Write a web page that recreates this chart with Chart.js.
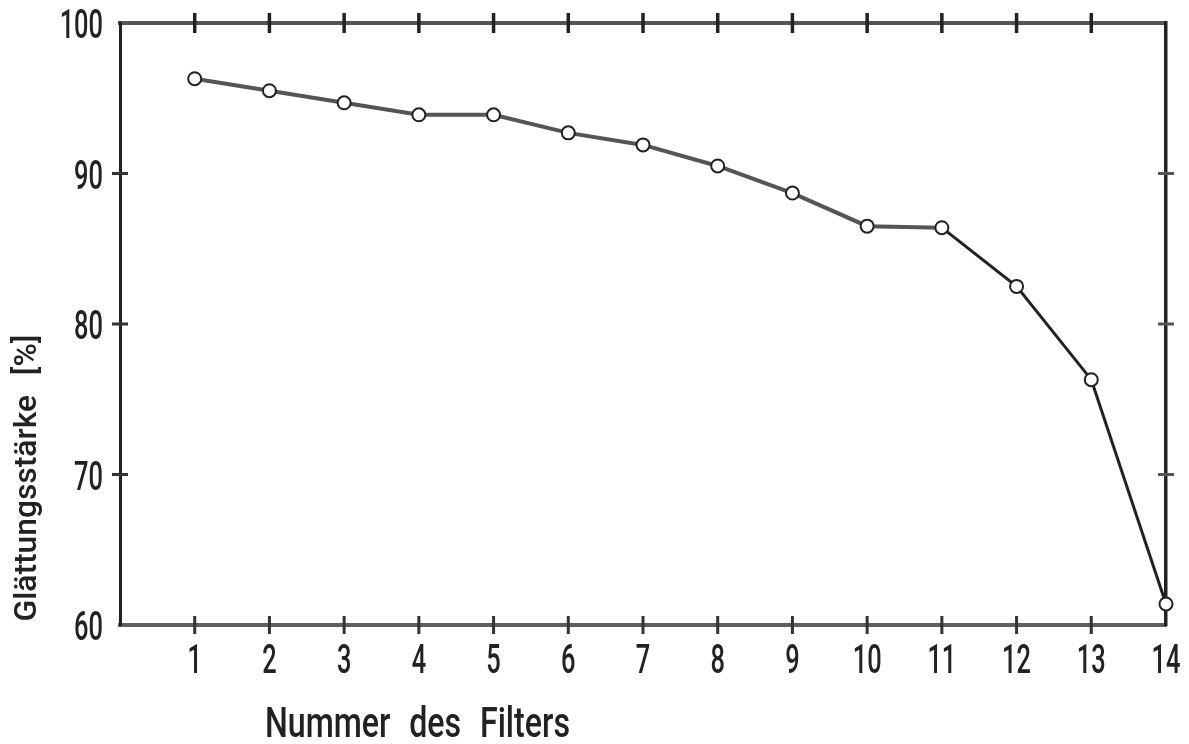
<!DOCTYPE html>
<html>
<head>
<meta charset="utf-8">
<title>Glättungsstärke der Filter</title>
<script src="https://cdn.jsdelivr.net/npm/chart.js@4/dist/chart.umd.min.js"></script>
<style>
  html, body { margin: 0; padding: 0; background: #ffffff; }
  #wrap { width: 1189px; height: 744px; position: relative; }
</style>
</head>
<body>
<div id="wrap"><canvas id="chart"></canvas></div>
<script>
// Filter numbers and the smoothing strength measured for each filter
const filterNumbers = [1, 2, 3, 4, 5, 6, 7, 8, 9, 10, 11, 12, 13, 14];
const smoothingStrength = [96.3, 95.5, 94.7, 93.9, 93.9, 92.7, 91.9, 90.5, 88.7, 86.5, 86.4, 82.5, 76.3, 61.4];

// Axis ticks: labelled values and the marks crossing the frame
const xLabelValues = [1, 2, 3, 4, 5, 6, 7, 8, 9, 10, 11, 12, 13, 14];
const yLabelValues = [60, 70, 80, 90, 100];
const xMarkValues = [1, 2, 3, 4, 5, 6, 7, 8, 9, 10, 11, 12, 13];
const yMarkValues = [70, 80, 90];
const yRange = [60, 100];
const xRange = [0, 14];

const xTitle = 'Nummer des Filters';
const yTitle = 'Glättungsstärke [%]';

const FONT = 'Roboto, "DejaVu Sans Condensed", sans-serif';
const INK = '#222222';
const NARROW = 0.62;   // horizontal squeeze for the condensed lettering

// Short marks that cross the frame on all four sides
const frameTicks = {
  id: 'frameTicks',
  afterDraw(chart) {
    const { ctx, chartArea: a, scales } = chart;
    ctx.save();
    ctx.lineCap = 'butt';
    xMarkValues.forEach(v => {
      const px = scales.x.getPixelForValue(v);
      ctx.strokeStyle = INK; ctx.lineWidth = 3.5;
      ctx.beginPath(); ctx.moveTo(px, a.top - 10); ctx.lineTo(px, a.top + 10); ctx.stroke();
      ctx.strokeStyle = '#333'; ctx.lineWidth = 3;
      ctx.beginPath(); ctx.moveTo(px, a.bottom - 9); ctx.lineTo(px, a.bottom + 9); ctx.stroke();
    });
    yMarkValues.forEach(v => {
      const py = scales.y.getPixelForValue(v);
      ctx.strokeStyle = '#333'; ctx.lineWidth = 3;
      ctx.beginPath(); ctx.moveTo(a.left - 8, py); ctx.lineTo(a.left + 8, py); ctx.stroke();
      ctx.strokeStyle = '#555'; ctx.lineWidth = 3;
      ctx.beginPath(); ctx.moveTo(a.right - 8, py); ctx.lineTo(a.right + 8, py); ctx.stroke();
    });
    ctx.restore();
  }
};

// Condensed tick labels, positioned by the chart's scales
function narrowText(ctx, text, x, y, align, sx) {
  ctx.save();
  ctx.translate(x, y);
  ctx.scale(sx, 1);
  ctx.textAlign = align;
  ctx.textBaseline = 'alphabetic';
  ctx.fillText(text, 0, 0);
  ctx.restore();
}

const tickLabels = {
  id: 'tickLabels',
  afterDraw(chart) {
    const { ctx, chartArea: a, scales } = chart;
    ctx.save();
    ctx.fillStyle = INK;
    ctx.font = '500 41px ' + FONT;
    yLabelValues.forEach(v => {
      const py = scales.y.getPixelForValue(v);
      narrowText(ctx, String(v), a.left - 17, py + 15, 'right', NARROW);
    });
    xLabelValues.forEach(v => {
      const px = scales.x.getPixelForValue(v);
      narrowText(ctx, String(v), px, a.bottom + 48, 'center', NARROW);
    });
    ctx.restore();
  }
};

// Axis titles, squeezed to the width of the lettering
const axisTitles = {
  id: 'axisTitles',
  afterDraw(chart) {
    const { ctx } = chart;
    ctx.save();
    ctx.fillStyle = INK;

    ctx.font = '500 42px ' + FONT;
    ctx.wordSpacing = '14px';
    let w = ctx.measureText(xTitle).width;
    narrowText(ctx, xTitle, 265, 737, 'left', 305 / w);

    ctx.font = '500 32px ' + FONT;
    ctx.wordSpacing = '12px';
    w = ctx.measureText(yTitle).width;
    ctx.translate(36, 478);
    ctx.rotate(-Math.PI / 2);
    narrowText(ctx, yTitle, 0, 0, 'center', 287 / w);
    ctx.restore();
  }
};

const points = filterNumbers.map((f, i) => ({ x: f, y: smoothingStrength[i] }));

const noPad = s => { s.paddingTop = 0; s.paddingBottom = 0; s.paddingLeft = 0; s.paddingRight = 0; };

new Chart(document.getElementById('chart'), {
  type: 'line',
  data: {
    datasets: [{
      data: points,
      borderColor: '#555555',
      borderWidth: 4,
      segment: {
        borderColor: c => c.p0DataIndex >= 10 ? '#222222' : '#555555',
        borderWidth: c => c.p0DataIndex >= 10 ? 3 : 4
      },
      pointRadius: 6.5,
      pointBorderWidth: 2,
      pointBorderColor: '#222222',
      pointBackgroundColor: '#ffffff',
      tension: 0,
      clip: false
    }]
  },
  options: {
    responsive: true,
    maintainAspectRatio: false,
    animation: false,
    layout: { padding: 0 },
    plugins: {
      legend: { display: false },
      tooltip: { enabled: false }
    },
    scales: {
      x: {
        type: 'linear', position: 'bottom',
        min: xRange[0], max: xRange[1],
        afterFit: s => { s.height = 119; noPad(s); },
        grid: { display: true, drawOnChartArea: false, drawTicks: false },
        border: { display: true, color: '#5f5f5f', width: 4 },
        ticks: { display: false, stepSize: 1 }
      },
      x2: {
        type: 'linear', position: 'top',
        min: xRange[0], max: xRange[1],
        afterFit: s => { s.height = 23; noPad(s); },
        grid: { display: false, drawTicks: false },
        border: { display: true, color: '#555555', width: 4 },
        ticks: { display: false }
      },
      y: {
        type: 'linear', position: 'left',
        min: yRange[0], max: yRange[1],
        afterFit: s => { s.width = 120; noPad(s); },
        grid: { display: true, drawOnChartArea: false, drawTicks: false },
        border: { display: true, color: '#222222', width: 3 },
        ticks: { display: false, stepSize: 10 }
      },
      y2: {
        type: 'linear', position: 'right',
        min: yRange[0], max: yRange[1],
        afterFit: s => { s.width = 23; noPad(s); },
        grid: { display: false, drawTicks: false },
        border: { display: true, color: '#222222', width: 3.5 },
        ticks: { display: false }
      }
    }
  },
  plugins: [frameTicks, tickLabels, axisTitles]
});
</script>
</body>
</html>
